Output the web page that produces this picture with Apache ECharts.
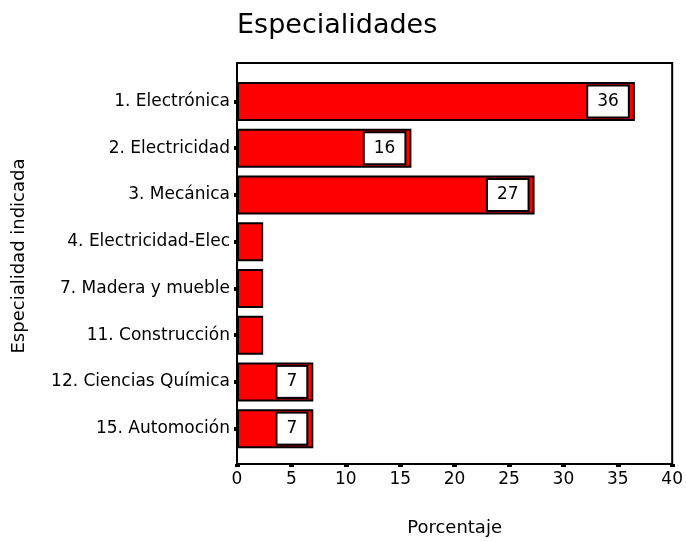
<!DOCTYPE html>
<html>
<head>
<meta charset="utf-8">
<script src="https://cdn.jsdelivr.net/npm/echarts@6/dist/echarts.min.js"></script>
<style>
  html, body { margin: 0; padding: 0; background: #fff; }
  #chart { width: 686px; height: 542px; }
</style>
</head>
<body>
<div id="chart"></div>
<script>
'use strict';
/* Especialidades - horizontal bar chart */

var categories = ['1. Electrónica', '2. Electricidad', '3. Mecánica', '4. Electricidad-Elec',
  '7. Madera y mueble', '11. Construcción', '12. Ciencias Química', '15. Automoción'];
var percents = [36.5, 16.0, 27.3, 2.4, 2.4, 2.4, 7.0, 7.0];
var barLabels = ['36', '16', '27', '', '', '', '7', '7'];
var xTicks = [0, 5, 10, 15, 20, 25, 30, 35, 40];

var font = 'DejaVu Sans';
var chart = echarts.init(document.getElementById('chart'), null, { renderer: 'canvas' });

// small bars carry no value box
var barData = percents.map(function (v, i) {
  return { value: v, label: { show: barLabels[i] !== '' } };
});

var option = {
  animation: false,
  backgroundColor: '#fff',
  textStyle: { fontFamily: font, color: '#000' },
  title: {
    text: 'Especialidades',
    left: 232,
    top: 7,
    textStyle: { fontFamily: font, fontSize: 27, fontWeight: 'normal', color: '#000' }
  },
  grid: [
    // frame
    { left: 237, right: 13, top: 63, bottom: 76, show: true, borderColor: '#000', borderWidth: 2, backgroundColor: 'transparent' },
    // bars
    { left: 237, right: 13, top: 78, bottom: 90 }
  ],
  xAxis: [{
    gridIndex: 0,
    type: 'value',
    min: xTicks[0],
    max: xTicks[xTicks.length - 1],
    interval: xTicks[1] - xTicks[0],
    name: 'Porcentaje',
    nameLocation: 'middle',
    nameGap: 55,
    nameTextStyle: { fontFamily: font, fontSize: 18, color: '#000' },
    axisLine: { show: true, lineStyle: { color: '#000', width: 2 } },
    axisTick: { show: true, length: 3, lineStyle: { color: '#000', width: 5 } },
    axisLabel: { fontFamily: font, fontSize: 17, color: '#000', margin: 7 },
    splitLine: { show: false }
  }, {
    gridIndex: 1,
    type: 'value',
    min: xTicks[0],
    max: xTicks[xTicks.length - 1],
    show: false
  }],
  yAxis: [{
    gridIndex: 0,
    type: 'value',
    show: false
  }, {
    gridIndex: 1,
    type: 'category',
    inverse: true,
    data: categories,
    name: 'Especialidad indicada',
    nameLocation: 'middle',
    nameGap: 209,
    nameTextStyle: { fontFamily: font, fontSize: 18, color: '#000', padding: [0, 0, 0, 18] },
    axisLine: { show: false },
    axisTick: { show: true, alignWithLabel: true, length: 3, lineStyle: { color: '#000', width: 4 } },
    axisLabel: { fontFamily: font, fontSize: 17, color: '#000', margin: 7 },
    splitLine: { show: false }
  }],
  series: [{
    type: 'bar',
    xAxisIndex: 1,
    yAxisIndex: 1,
    data: barData,
    barWidth: 39,
    itemStyle: { color: '#ff0000', borderColor: '#000', borderWidth: 2 },
    label: {
      show: true,
      position: 'insideRight',
      distance: 7,
      formatter: function (p) { return barLabels[p.dataIndex]; },
      fontFamily: font,
      fontSize: 17,
      lineHeight: 17,
      color: '#000',
      backgroundColor: '#fff',
      borderColor: '#000',
      borderWidth: 2,
      padding: [1, 9, 12, 9]
    }
  }]
};

chart.setOption(option);
</script>
</body>
</html>
